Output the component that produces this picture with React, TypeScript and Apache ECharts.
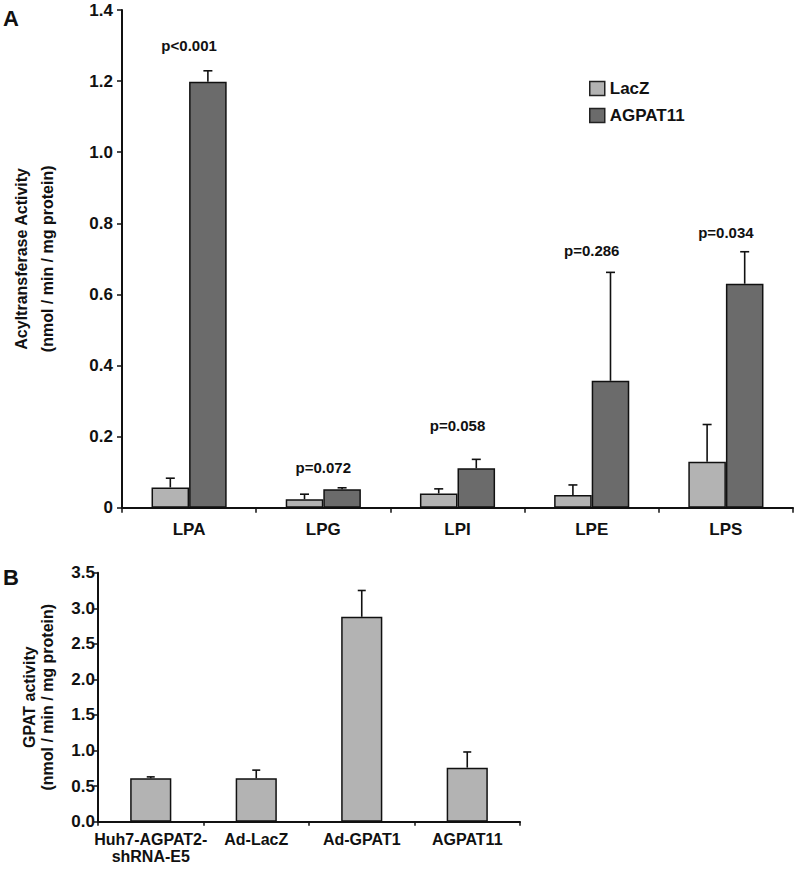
import React, { useEffect, useRef } from 'react';
import * as echarts from 'echarts';

// Panel A data
const substrates = ['LPA', 'LPG', 'LPI', 'LPE', 'LPS'];
const lacZMean = [0.057, 0.024, 0.04, 0.036, 0.129];
const lacZErr = [0.026, 0.014, 0.013, 0.028, 0.105];
const agpat11Mean = [1.198, 0.052, 0.111, 0.357, 0.63];
const agpat11Err = [0.031, 0.004, 0.025, 0.305, 0.09];
const pValues = ['p<0.001', 'p=0.072', 'p=0.058', 'p=0.286', 'p=0.034'];
const pLabelY = [1.3, 0.114, 0.232, 0.723, 0.774];

// Panel B data
const samples = ['Huh7-AGPAT2-\nshRNA-E5', 'Ad-LacZ', 'Ad-GPAT1', 'AGPAT11'];
const gpatMean = [0.61, 0.61, 2.88, 0.76];
const gpatErr = [0.02, 0.115, 0.37, 0.22];

const FONT = "'Liberation Sans', Arial, Helvetica, sans-serif";
const INK = '#111111';
const LIGHT = '#b3b3b3';
const DARK = '#6b6b6b';

const A_BAR_FRAC = 0.28;
const B_BAR_FRAC = 0.39;

function errorRenderer(offsetSign: number, frac: number, capHalf: number) {
  return (params: any, api: any) => {
    const i = api.value(0);
    const m = api.value(1);
    const e = api.value(2);
    const band = api.size([1, 0])[0];
    const bw = band * frac;
    const base = api.coord([i, m]);
    const top = api.coord([i, m + e]);
    const x = base[0] + (offsetSign * bw) / 2;
    const st = { stroke: INK, lineWidth: 1.6 };
    return {
      type: 'group',
      children: [
        { type: 'line', shape: { x1: x, y1: base[1], x2: x, y2: top[1] }, style: st },
        { type: 'line', shape: { x1: x - capHalf, y1: top[1], x2: x + capHalf, y2: top[1] }, style: st },
      ],
    };
  };
}

const axisBase = {
  axisLine: { show: true, lineStyle: { color: INK, width: 2 } },
  axisTick: { show: true, length: 5, lineStyle: { color: INK, width: 1.5 } },
  splitLine: { show: false },
};

export default function App() {
  const ref = useRef<HTMLDivElement>(null);
  useEffect(() => {
    const chart = echarts.init(ref.current!, null, { renderer: 'svg' });
    const option: any = {
      animation: false,
      backgroundColor: '#ffffff',
      textStyle: { fontFamily: FONT },
      grid: [
        { left: 101, top: 10, width: 692, height: 497.7 },
        { left: 98, top: 572.7, width: 422, height: 249 },
      ],
      legend: {
        data: ['LacZ', 'AGPAT11'],
        orient: 'vertical',
        left: 584,
        top: 75,
        itemWidth: 15,
        itemHeight: 14,
        itemGap: 10,
        icon: 'rect',
        itemStyle: { borderColor: '#222', borderWidth: 1.5 },
        textStyle: { fontSize: 17, fontWeight: 'bold', color: INK, fontFamily: FONT, lineHeight: 16 },
      },
      graphic: [
        { type: 'text', left: 3, top: 7, style: { text: 'A', fontSize: 22, fontWeight: 'bold', fill: INK, fontFamily: FONT } },
        { type: 'text', left: 3, top: 566, style: { text: 'B', fontSize: 22, fontWeight: 'bold', fill: INK, fontFamily: FONT } },
      ],
      xAxis: [
        {
          ...axisBase,
          type: 'category',
          gridIndex: 0,
          data: substrates,
          axisLabel: { interval: 0, margin: 13, fontSize: 17, fontWeight: 'bold', color: INK, fontFamily: FONT },
        },
        {
          ...axisBase,
          type: 'category',
          gridIndex: 1,
          data: samples,
          axisTick: { show: true, length: 4, lineStyle: { color: INK, width: 1.5 } },
          axisLabel: { interval: 0, margin: 9, fontSize: 16, lineHeight: 17, fontWeight: 'bold', color: INK, fontFamily: FONT },
        },
      ],
      yAxis: [
        {
          ...axisBase,
          type: 'value',
          gridIndex: 0,
          min: 0,
          max: 1.4,
          interval: 0.2,
          axisLabel: {
            margin: 9,
            fontSize: 17,
            fontWeight: 'bold',
            color: INK,
            fontFamily: FONT,
            formatter: (v: number) => (v === 0 ? '0' : v.toFixed(1)),
          },
          name: 'Acyltransferase Activity\n(nmol / min / mg protein)',
          nameLocation: 'middle',
          nameRotate: 90,
          nameGap: 62,
          nameTextStyle: { fontSize: 16, fontWeight: 'bold', color: INK, lineHeight: 26, fontFamily: FONT },
        },
        {
          ...axisBase,
          type: 'value',
          gridIndex: 1,
          min: 0,
          max: 3.5,
          interval: 0.5,
          axisTick: { show: true, length: 4, lineStyle: { color: INK, width: 1.5 } },
          axisLabel: {
            margin: 3,
            fontSize: 17,
            fontWeight: 'bold',
            color: INK,
            fontFamily: FONT,
            formatter: (v: number) => v.toFixed(1),
          },
          name: 'GPAT activity\n(nmol / min / mg protein)',
          nameLocation: 'middle',
          nameRotate: 90,
          nameGap: 42,
          nameTextStyle: { fontSize: 16, fontWeight: 'bold', color: INK, lineHeight: 18, fontFamily: FONT },
        },
      ],
      series: [
        {
          name: 'LacZ',
          type: 'bar',
          xAxisIndex: 0,
          yAxisIndex: 0,
          data: lacZMean,
          barWidth: '28%',
          barGap: '0%',
          itemStyle: { color: LIGHT, borderColor: INK, borderWidth: 1.5 },
        },
        {
          name: 'AGPAT11',
          type: 'bar',
          xAxisIndex: 0,
          yAxisIndex: 0,
          data: agpat11Mean,
          barWidth: '28%',
          barGap: '0%',
          itemStyle: { color: DARK, borderColor: INK, borderWidth: 1.5 },
        },
        {
          name: 'errLacZ',
          type: 'custom',
          xAxisIndex: 0,
          yAxisIndex: 0,
          z: 3,
          encode: { x: 0, y: [1, 2] },
          data: substrates.map((_, i) => [i, lacZMean[i], lacZErr[i]]),
          renderItem: errorRenderer(-1, A_BAR_FRAC, 4.5),
        },
        {
          name: 'errAGPAT11',
          type: 'custom',
          xAxisIndex: 0,
          yAxisIndex: 0,
          z: 3,
          encode: { x: 0, y: [1, 2] },
          data: substrates.map((_, i) => [i, agpat11Mean[i], agpat11Err[i]]),
          renderItem: errorRenderer(1, A_BAR_FRAC, 4.5),
        },
        {
          name: 'pvals',
          type: 'custom',
          xAxisIndex: 0,
          yAxisIndex: 0,
          z: 4,
          encode: { x: 0, y: 1 },
          data: substrates.map((_, i) => [i, pLabelY[i]]),
          renderItem: (params: any, api: any) => {
            const idx = params.dataIndex;
            const p = api.coord([api.value(0), api.value(1)]);
            return {
              type: 'text',
              x: p[0],
              y: p[1],
              style: {
                text: pValues[idx],
                fill: INK,
                fontSize: 15,
                fontWeight: 'bold',
                fontFamily: FONT,
                align: 'center',
                verticalAlign: 'middle',
              },
            };
          },
        },
        {
          name: 'GPAT',
          type: 'bar',
          xAxisIndex: 1,
          yAxisIndex: 1,
          data: gpatMean,
          barWidth: '39%',
          itemStyle: { color: LIGHT, borderColor: INK, borderWidth: 1.5 },
        },
        {
          name: 'errGPAT',
          type: 'custom',
          xAxisIndex: 1,
          yAxisIndex: 1,
          z: 3,
          encode: { x: 0, y: [1, 2] },
          data: samples.map((_, i) => [i, gpatMean[i], gpatErr[i]]),
          renderItem: errorRenderer(0, B_BAR_FRAC, 4),
        },
      ],
    };
    chart.setOption(option);
    return () => chart.dispose();
  }, []);
  return (
    <div
      ref={ref}
      style={{ position: 'fixed', left: 0, top: 0, width: 797, height: 872, background: '#fff' }}
    />
  );
}
